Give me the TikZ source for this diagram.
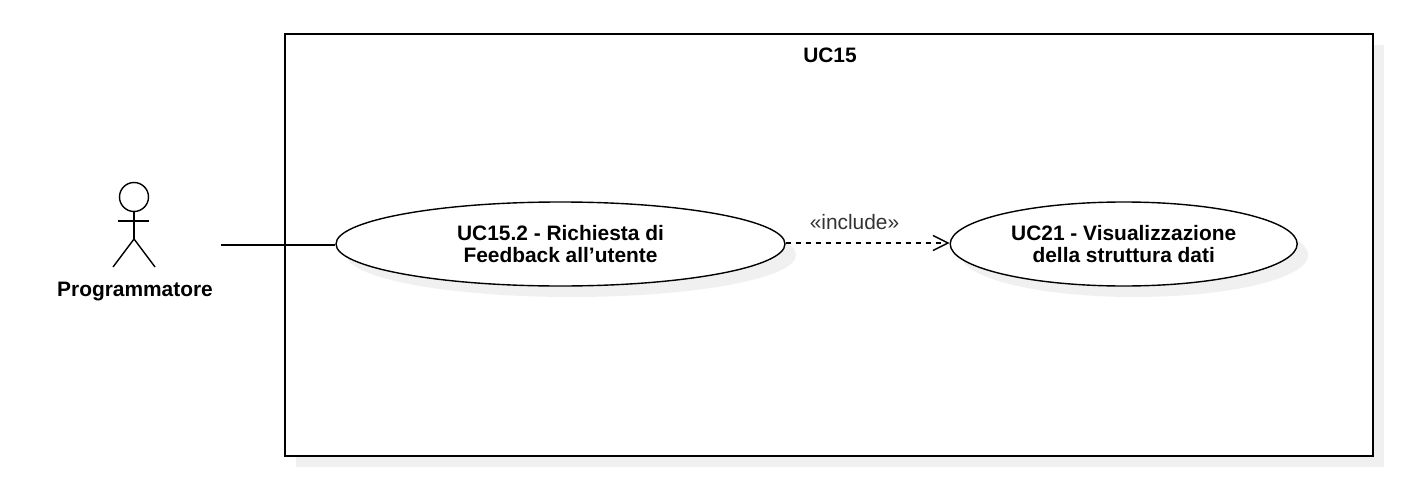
\documentclass[tikz,border=0pt]{standalone}
\usepackage{fontspec}
\setmainfont{Liberation Sans}
\usetikzlibrary{positioning, arrows.meta, shapes.geometric, shadows}
\definecolor{shadowgray}{HTML}{F0F0F0}
\definecolor{labelgray}{HTML}{333333}

\begin{document}
\begin{tikzpicture}[x=1pt, y=-1pt, line width=1.4pt,
        shadowed/.style={drop shadow={shadow xshift=11pt, shadow yshift=-11pt, fill=shadowgray, opacity=1}},
        system/.style={draw, fill=white, shadowed, minimum width=1088pt, minimum height=422pt, inner sep=0pt},
        usecase/.style={ellipse, draw, fill=white, shadowed, minimum height=84pt, inner sep=0pt, align=center, font=\fontsize{20.9}{22}\selectfont\bfseries},
        actorlabel/.style={font=\fontsize{20.9}{22}\selectfont\bfseries, inner sep=0pt}]
      \useasboundingbox (0,0) rectangle (1412,500);

      \node[system] (uc15) at (829,245) {};
      \node[actorlabel] (uc15title) at (830,55) {UC15};

      \node[usecase, minimum width=449pt] (uc152) at (560.5,244) {UC15.2 - Richiesta di\\Feedback all’utente};
      \node[usecase, minimum width=347pt] (uc21) at (1123.7,244) {UC21 - Visualizzazione\\della struttura dati};

      % actor
      \node[circle, draw, minimum size=29pt, inner sep=0pt] (head) at (134,197) {};
      \coordinate (hip) at (134,239);
      \coordinate (armL) at (118,221);
      \coordinate (armR) at (149,221);
      \coordinate (footL) at (113,267);
      \coordinate (footR) at (155,267);
      \draw (head) -- (hip);
      \draw (armL) -- (armR);
      \draw (footL) -- (hip) -- (footR);
      \node[actorlabel] (programmatore) at (135,292) {Programmatore};

      \coordinate (actorend) at (221,245);
      \draw (actorend) -- (uc152.west |- actorend);
      \draw[-{Straight Barb[length=15pt, width=15pt, line width=1.4pt]}, dash pattern=on 5.5pt off 4.5pt] ([yshift=1pt]uc152.east) -- ([yshift=1pt]uc21.west);
      \node[text=labelgray, font=\fontsize{20.9}{22}\selectfont, inner sep=0pt] (include) at (854.5,222) {«include»};
    \end{tikzpicture}
\end{document}
